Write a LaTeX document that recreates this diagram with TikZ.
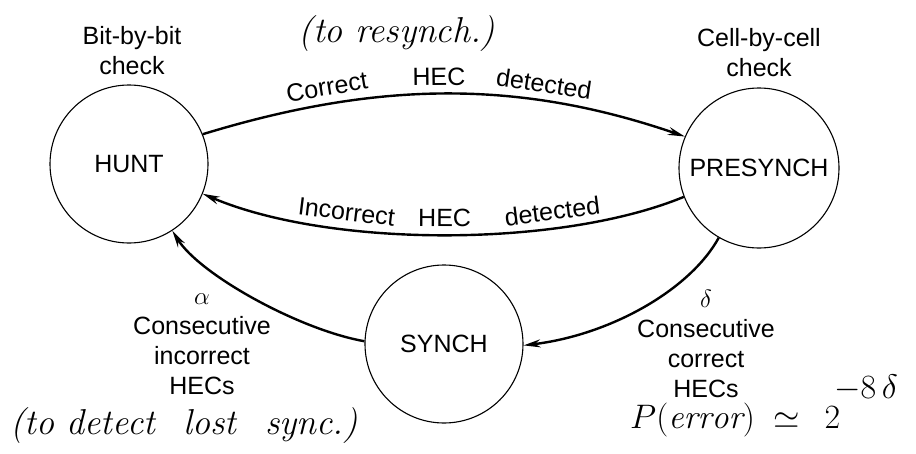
\documentclass[tikz,border=0pt]{standalone}
\usepackage{fix-cm}
\usepackage{fontspec}
\newfontfamily\labelfont{Liberation Sans}
\usetikzlibrary{arrows.meta}
\begin{document}
\begin{tikzpicture}[x=1pt,y=-1pt,
  state/.style={circle,draw,line width=1.1pt,minimum size=158pt,inner sep=0pt,
    font=\labelfont\fontsize{25}{30}\selectfont},
  note/.style={font=\labelfont\fontsize{25}{30}\selectfont,align=center,inner sep=0pt},
  trans/.style={line width=2.4pt,-{Stealth[length=17pt,width=8pt]}},
  edgelbl/.style={font=\labelfont\fontsize{25}{30}\selectfont,sloped,above=5pt,inner sep=2pt},
  hand/.style={font=\fontsize{36}{40}\selectfont\itshape,inner sep=0pt}]
\useasboundingbox (0,0) rectangle (916,453);

% states
\node[state] (hunt) at (129,164) {HUNT};
\node[state,minimum size=160pt] (pre) at (759,168) {PRESYNCH};
\node[state] (synch) at (444,344) {SYNCH};

% state descriptions
\node[note] (bitchk) at (132,51) {Bit-by-bit\\check};
\node[note] (cellchk) at (759,53) {Cell-by-cell\\check};
\node[note] (alphalbl) at (202,344) {$\alpha$\\Consecutive\\incorrect\\HECs};
\node[note] (deltalbl) at (706,344) {$\delta$\\Consecutive\\correct\\HECs};

% handwritten remarks
\node[hand] (resync) at (397,34) {(to resynch.)};
\node[hand] (lost) at (184,426) {(to detect\;\, lost\;\, sync.)};
\node[hand,anchor=base west,font=\fontsize{34}{40}\selectfont] (perr) at (630,428)
  {$P(\mathit{error})\;\simeq\;\,2$\kern-6pt\raisebox{30pt}{$-8\,\delta$}};

% transitions
\draw[trans] (hunt.22) .. controls (380,80) and (520,80) .. (pre.157)
  node[edgelbl,pos=0.25] {Correct}
  node[edgelbl,pos=0.48] {HEC}
  node[edgelbl,pos=0.70] {detected};
\draw[trans] (pre.201) .. controls (560,248) and (330,248) .. (hunt.-22)
  node[edgelbl,pos=0.29] {detected}
  node[edgelbl,pos=0.5] {HEC}
  node[edgelbl,pos=0.69] {Incorrect};
\draw[trans] (synch.178) .. controls (300,330) and (200,275) .. (hunt.-57);
\draw[trans] (pre.240) .. controls (690,290) and (610,335) .. (synch.-1);
\end{tikzpicture}
\end{document}
